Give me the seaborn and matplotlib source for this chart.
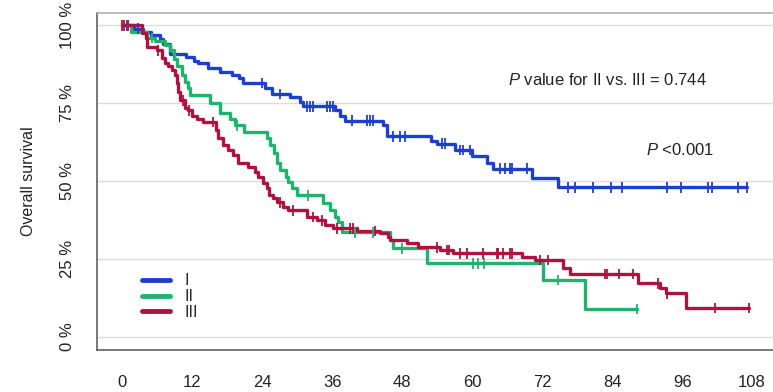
import numpy as np
import pandas as pd
import matplotlib
matplotlib.use("Agg")
import matplotlib.pyplot as plt
from matplotlib.lines import Line2D
import seaborn as sns

# step curves: time of each drop (months) and survival (%) after it
blue_t = [0, 2, 3.5, 5, 6.5, 7, 8.2, 11, 12.3, 13, 14.7, 16.8, 18.9, 20, 20.7, 24.5, 25.7,
          28.8, 30.5, 31, 36.5, 37.4, 38.2, 44.8, 45.4, 53, 54, 57, 60, 62.6, 63.6, 70.3, 74.7, 107.1]
blue_s = [100, 99, 98, 97, 95.5, 94, 91, 90, 88.5, 88, 86.5, 85, 84, 83, 81.5, 80, 78,
          77, 75.3, 74, 72.8, 71, 69.5, 68, 64.4, 63, 62, 60, 58, 56, 54, 51, 48, 48]

green_t = [0, 1.5, 4.3, 5.7, 7.4, 8.2, 8.8, 9.4, 10.3, 10.8, 11.3, 11.7, 15.1, 16.8, 18.5, 19.4,
           20.8, 24.9, 25.4, 26, 26.5, 27.1, 28, 28.5, 29.1, 30, 34.5, 35.7, 36.5, 37, 37.7,
           46, 46.5, 52.3, 72.2, 79.4, 88.3]
green_s = [100, 98, 96, 95, 93.6, 92, 89.4, 87, 84, 81.7, 80, 77.6, 75, 72, 70, 68,
           65.7, 63.8, 61.5, 59, 56, 53.5, 51.3, 49.7, 47.8, 45.5, 43, 40.7, 38.5, 36.9, 33.6,
           31, 28.5, 23.7, 18.3, 9, 9]

red_t = [0, 3.4, 4.0, 4.3, 6.0, 6.9, 7.4, 7.9, 8.6, 9.1, 9.4, 9.6, 9.9, 10.8, 11.3, 12, 12.9,
         13.9, 16, 16.5, 17.3, 18.2, 19, 19.9, 21.6, 22.8, 23.3, 24.2, 24.9, 25.1, 25.9, 26.5,
         27.6, 28.5, 31.7, 33.4, 34.8, 36.2, 40.3, 44.2, 45.6, 46, 48.9, 50.7, 54.5, 56.7,
         68.6, 70.8, 75.6, 76.8, 88.5, 92.2, 93.3, 96.7, 107.5]
red_s = [100, 97.5, 96, 93, 92, 89.7, 88, 87, 85.6, 84, 81.4, 78.5, 76, 73.4, 72.8, 71, 70,
         69, 66.3, 63.8, 61.5, 60, 58.3, 56, 54.5, 52.9, 51.3, 49.4, 47.8, 45.5, 44.6, 43.3,
         41.7, 40.7, 38.5, 37.5, 35.9, 34.9, 34, 33.3, 32, 31, 30.1, 28.8, 27.9, 26.9,
         25.6, 24.7, 22, 20.2, 17.3, 15.7, 14, 9.3, 9.3]

# censoring times (months)
blue_cens = [0.9, 2.7, 24.0, 27.1, 31.7, 32.2, 32.7, 35.1, 35.7, 36.2, 39.4, 42.0, 42.5, 43.0,
             46.5, 47.7, 48.5, 54.9, 55.4, 57.9, 58.5, 59.7, 64.8, 65.7, 66.5, 66.9, 69.4,
             76.5, 77.7, 80.7, 83.8, 85.7, 93.4, 95.8, 100.5, 101.1, 105.6, 107.1]
green_cens = [1.0, 5.1, 19.6, 31.9, 40.0, 43.0, 48.0, 60.2, 61.0, 62.0, 74.7, 88.3]
red_cens = [0, 0.3, 1.0, 6.2, 10.5, 11.5, 15.6, 27.1, 29.3, 32.7, 34.3, 36.9, 39.0, 39.6,
            43.4, 54.0, 55.7, 56.0, 57.9, 59.1, 61.9, 64.3, 64.5, 65.3, 66.5, 66.9, 71.7,
            73.0, 82.8, 83.2, 85.2, 87.6, 91.9, 93.5, 101.7, 107.5]

groups = ["I", "II", "III"]
colors = {"I": "#1d3fd0", "II": "#1fb46c", "III": "#b0123f"}
x_ticks = [0, 12, 24, 36, 48, 60, 72, 84, 96, 108]
y_ticks = [0, 25, 50, 75, 100]
y_labels = ["0 %", "25 %", "50 %", "75 %", "100 %"]

curves = {"I": (blue_t, blue_s, blue_cens),
          "II": (green_t, green_s, green_cens),
          "III": (red_t, red_s, red_cens)}

rows, crows = [], []
for g in groups:
    t, s, c = curves[g]
    for ti, si in zip(t, s):
        rows.append((g, ti, si))
    for ci in c:
        k = np.searchsorted(t, ci, side="right") - 1
        crows.append((g, ci, s[k]))
df = pd.DataFrame(rows, columns=["group", "time", "surv"])
cdf = pd.DataFrame(crows, columns=["group", "time", "surv"])

sns.set_style("white")
plt.rcParams["font.family"] = ["Liberation Sans", "DejaVu Sans"]
plt.rcParams["mathtext.fontset"] = "custom"
plt.rcParams["mathtext.it"] = "Liberation Sans:italic"
plt.rcParams["mathtext.rm"] = "Liberation Sans"

fig = plt.figure(figsize=(7.73, 3.92), dpi=100)
ax = fig.add_axes([0.1255, 0.1084, 0.88, 0.8584])

for y in y_ticks:
    ax.axhline(y, color="#dcdcdc", lw=1, zorder=0)

sns.lineplot(data=df, x="time", y="surv", hue="group", palette=colors, estimator=None,
             sort=False, drawstyle="steps-post", linewidth=2.4, legend=False, ax=ax)
sns.scatterplot(data=cdf, x="time", y="surv", hue="group", palette=colors, marker="|",
                s=60, linewidth=1.3, legend=False, ax=ax, zorder=3)

ax.set_xlim(-4.32, 112.32)
ax.set_ylim(-4, 104)
ax.set_xticks(x_ticks)
ax.set_yticks(y_ticks)
ax.set_yticklabels(y_labels)
ax.tick_params(axis="both", direction="out", length=7, width=1.1, color="#444444",
               labelsize=12, labelcolor="#222222")
ax.tick_params(axis="x", pad=11)
ax.tick_params(axis="y", pad=9)
for lab in ax.get_yticklabels():
    lab.set_rotation(90)
    lab.set_va("center")
for sp in ax.spines.values():
    sp.set_color("#aaaaaa")
    sp.set_linewidth(1.1)
ax.spines["left"].set_color("#555555")
ax.spines["bottom"].set_color("#555555")

ax.set_xlabel("")
ax.set_ylabel("Overall survival", fontsize=11.5, color="#222222", labelpad=17)

ax.text(66.2, 82.4, r"$\mathit{P}$ value for II vs. III = 0.744", fontsize=12,
        va="center", ha="left", color="#222222")
ax.text(89.8, 60, r"$\mathit{P}$ <0.001", fontsize=12, va="center", ha="left", color="#222222")

handles = [Line2D([0], [0], color=colors[g], lw=3.5) for g in groups]
ax.legend(handles, groups, loc="upper left", bbox_to_anchor=(0.055, 0.25), frameon=False,
          fontsize=11.5, handlelength=1.75, labelspacing=0.05, borderpad=0, handletextpad=0.9)

fig.savefig("out.png", dpi=100)
